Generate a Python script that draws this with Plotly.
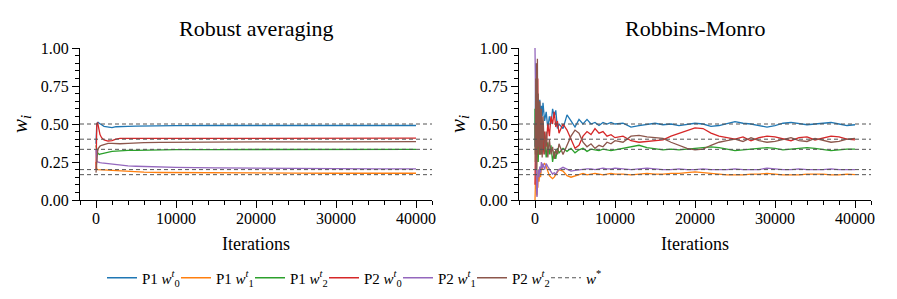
import plotly.graph_objects as go

# ---------------- data ----------------
series_names = ["P1 <i>w</i><sup><i>t</i></sup><sub>0</sub>", "P1 <i>w</i><sup><i>t</i></sup><sub>1</sub>",
                "P1 <i>w</i><sup><i>t</i></sup><sub>2</sub>", "P2 <i>w</i><sup><i>t</i></sup><sub>0</sub>",
                "P2 <i>w</i><sup><i>t</i></sup><sub>1</sub>", "P2 <i>w</i><sup><i>t</i></sup><sub>2</sub>"]
series_colors = ["#1f77b4", "#ff7f0e", "#2ca02c", "#d62728", "#9467bd", "#8c564b"]
w_star = [0.5, 0.4, 1/3, 0.2, 1/6]

# Robust averaging
x_ra = [0, 50, 100, 200, 300, 400, 500, 700, 1000, 1500, 2000, 2500, 3000, 4000, 5000, 6000,
        8000, 10000, 15000, 20000, 25000, 30000, 35000, 40000]
ra_p1_w0 = [0.37, 0.45, 0.50, 0.51, 0.51, 0.505, 0.50, 0.495, 0.485, 0.478, 0.476, 0.482, 0.484, 0.485,
            0.486, 0.487, 0.488, 0.489, 0.49, 0.49, 0.49, 0.49, 0.49, 0.49]
ra_p1_w1 = [0.25, 0.22, 0.205, 0.20, 0.20, 0.20, 0.20, 0.20, 0.198, 0.196, 0.195, 0.193, 0.19, 0.187,
            0.185, 0.183, 0.181, 0.18, 0.178, 0.177, 0.177, 0.176, 0.176, 0.176]
ra_p1_w2 = [0.36, 0.34, 0.32, 0.31, 0.305, 0.30, 0.302, 0.305, 0.31, 0.315, 0.32, 0.322, 0.324, 0.326,
            0.327, 0.328, 0.33, 0.331, 0.332, 0.333, 0.333, 0.333, 0.333, 0.333]
ra_p2_w0 = [0.20, 0.40, 0.50, 0.51, 0.48, 0.45, 0.43, 0.41, 0.395, 0.388, 0.39, 0.40, 0.405, 0.405,
            0.405, 0.406, 0.407, 0.407, 0.407, 0.407, 0.407, 0.407, 0.407, 0.407]
ra_p2_w1 = [0.33, 0.28, 0.26, 0.25, 0.25, 0.248, 0.246, 0.244, 0.242, 0.238, 0.236, 0.232, 0.228, 0.224,
            0.222, 0.22, 0.217, 0.215, 0.211, 0.208, 0.207, 0.206, 0.205, 0.205]
ra_p2_w2 = [0.18, 0.22, 0.27, 0.32, 0.34, 0.35, 0.355, 0.36, 0.365, 0.372, 0.372, 0.37, 0.37, 0.372,
            0.375, 0.378, 0.379, 0.38, 0.381, 0.382, 0.383, 0.383, 0.384, 0.384]

# Robbins-Monro
x_rm = [0, 50, 100, 150, 200, 250, 300, 350, 400, 500, 600, 700, 800, 900, 1000, 1200, 1400, 1600,
        1800, 2000, 2200, 2400, 2600, 2800,
        3000, 3500, 4000, 4500, 5000, 5500, 6000, 6500, 7000, 7500, 8000, 8500, 9000, 9500, 10000,
        11000, 12000, 13000, 14000, 15000, 16000, 17000, 18000, 19000, 20000, 21000, 22000, 23000,
        24000, 25000, 26000, 27000, 28000, 29000, 30000, 31000, 32000, 33000, 34000, 35000, 36000,
        37000, 38000, 39000, 40000]
rm_p1_w0 = [0.35, 0.70, 0.90, 0.60, 0.85, 0.50, 0.70, 0.45, 0.65, 0.55, 0.66, 0.50, 0.62, 0.55, 0.64,
            0.52, 0.58, 0.47, 0.55, 0.50, 0.60, 0.55, 0.59, 0.47,
            0.50, 0.47, 0.56, 0.52, 0.48, 0.53, 0.50, 0.53, 0.50, 0.51, 0.49, 0.51, 0.50, 0.51, 0.50,
            0.505, 0.48, 0.49, 0.50, 0.505, 0.495, 0.50, 0.49, 0.50, 0.505, 0.50, 0.485, 0.49, 0.50,
            0.515, 0.505, 0.50, 0.49, 0.48, 0.49, 0.505, 0.51, 0.50, 0.495, 0.50, 0.505, 0.51, 0.50,
            0.49, 0.495]
rm_p1_w1 = [0.00, 0.20, 0.05, 0.30, 0.08, 0.03, 0.15, 0.08, 0.20, 0.12, 0.20, 0.15, 0.22, 0.20, 0.23,
            0.24, 0.22, 0.19, 0.16, 0.15, 0.14, 0.15, 0.17, 0.19,
            0.20, 0.19, 0.16, 0.15, 0.16, 0.17, 0.175, 0.165, 0.17, 0.175, 0.17, 0.165, 0.17, 0.175, 0.17,
            0.17, 0.165, 0.17, 0.175, 0.17, 0.17, 0.175, 0.175, 0.18, 0.185, 0.18, 0.175, 0.17, 0.165,
            0.165, 0.165, 0.17, 0.17, 0.175, 0.17, 0.165, 0.165, 0.165, 0.17, 0.17, 0.17, 0.165, 0.165,
            0.17, 0.167]
rm_p1_w2 = [0.60, 0.25, 0.50, 0.35, 0.15, 0.45, 0.30, 0.55, 0.25, 0.45, 0.30, 0.48, 0.30, 0.42, 0.32,
            0.40, 0.28, 0.38, 0.30, 0.36, 0.25, 0.32, 0.27, 0.34,
            0.31, 0.34, 0.32, 0.34, 0.31, 0.33, 0.34, 0.32, 0.335, 0.33, 0.325, 0.335, 0.33, 0.325, 0.33,
            0.34, 0.35, 0.36, 0.345, 0.335, 0.33, 0.335, 0.33, 0.335, 0.34, 0.345, 0.35, 0.345, 0.335,
            0.325, 0.33, 0.335, 0.34, 0.345, 0.34, 0.33, 0.335, 0.34, 0.345, 0.34, 0.33, 0.325, 0.33,
            0.335, 0.335]
rm_p2_w0 = [0.10, 0.60, 0.30, 0.75, 0.20, 0.55, 0.35, 0.80, 0.40, 0.60, 0.30, 0.55, 0.35, 0.50, 0.30,
            0.45, 0.35, 0.50, 0.42, 0.55, 0.50, 0.58, 0.48, 0.52,
            0.44, 0.50, 0.46, 0.40, 0.34, 0.36, 0.42, 0.45, 0.43, 0.47, 0.44, 0.45, 0.42, 0.43, 0.41,
            0.42, 0.39, 0.38, 0.385, 0.39, 0.395, 0.42, 0.44, 0.46, 0.475, 0.47, 0.44, 0.42, 0.41,
            0.40, 0.415, 0.39, 0.41, 0.42, 0.415, 0.40, 0.39, 0.41, 0.415, 0.395, 0.41, 0.42, 0.415,
            0.40, 0.395]
rm_p2_w1 = [1.00, 0.60, 0.30, 0.15, 0.05, 0.02, 0.10, 0.05, 0.20, 0.15, 0.22, 0.18, 0.25, 0.21, 0.24,
            0.20, 0.24, 0.22, 0.20, 0.19, 0.17, 0.18, 0.17, 0.19,
            0.20, 0.215, 0.20, 0.19, 0.195, 0.20, 0.20, 0.205, 0.205, 0.20, 0.205, 0.21, 0.205, 0.205, 0.21,
            0.205, 0.20, 0.205, 0.21, 0.205, 0.20, 0.20, 0.205, 0.20, 0.20, 0.205, 0.20, 0.20, 0.20,
            0.205, 0.20, 0.20, 0.20, 0.21, 0.205, 0.20, 0.20, 0.205, 0.20, 0.20, 0.20, 0.205, 0.20,
            0.20, 0.20]
rm_p2_w2 = [0.50, 0.30, 0.80, 0.20, 0.90, 0.30, 0.93, 0.35, 0.70, 0.30, 0.65, 0.30, 0.60, 0.28, 0.55,
            0.30, 0.45, 0.28, 0.40, 0.30, 0.35, 0.27, 0.33, 0.30,
            0.37, 0.30, 0.36, 0.42, 0.46, 0.44, 0.38, 0.35, 0.37, 0.34, 0.36, 0.35, 0.38, 0.37, 0.39,
            0.38, 0.42, 0.425, 0.415, 0.41, 0.405, 0.38, 0.36, 0.34, 0.33, 0.335, 0.36, 0.38, 0.39,
            0.40, 0.385, 0.41, 0.39, 0.38, 0.385, 0.40, 0.41, 0.39, 0.385, 0.405, 0.39, 0.38, 0.385,
            0.40, 0.405]

ra_series = [ra_p1_w0, ra_p1_w1, ra_p1_w2, ra_p2_w0, ra_p2_w1, ra_p2_w2]
rm_series = [rm_p1_w0, rm_p1_w1, rm_p1_w2, rm_p2_w0, rm_p2_w1, rm_p2_w2]

titles = ["Robust averaging", "Robbins-Monro"]
x_range = [-2000, 42000]

# ---------------- figure ----------------
W, H = 897, 299          # browser window
OFF = 8                  # default page body margin
FW, FH = W - 2 * OFF, H - 2 * OFF
FONT = "Liberation Serif, Times New Roman, serif"
fig = go.Figure()

legend_ids = ["legend", "legend2", "legend3", "legend4", "legend5", "legend6", "legend7"]

for k, (series, xs) in enumerate([(ra_series, x_ra), (rm_series, x_rm)]):
    xa = "x" if k == 0 else "x2"
    ya = "y" if k == 0 else "y2"
    for i, ys in enumerate(series):
        fig.add_trace(go.Scatter(x=xs, y=ys, mode="lines", name=series_names[i],
                                 line=dict(color=series_colors[i], width=1.3),
                                 xaxis=xa, yaxis=ya, showlegend=(k == 0), legend=legend_ids[i]))
    dx, dy = [], []
    for v in w_star:
        dx += [x_range[0], x_range[1], None]
        dy += [v, v, None]
    fig.add_trace(go.Scatter(x=dx, y=dy, mode="lines", name="<i>w</i><sup>*</sup>",
                             line=dict(color="#555555", width=1, dash="4px,3px"),
                             xaxis=xa, yaxis=ya, showlegend=(k == 0), legend=legend_ids[6]))

def px_x(p):
    return (p - OFF) / FW

def px_y(p):
    return 1 - (p - OFF) / FH

doms = [[px_x(80), px_x(432)], [px_x(519), px_x(871)]]
ydom = [px_y(200), px_y(48)]

axis_common = dict(showline=True, linecolor="black", linewidth=1.2, showgrid=False, zeroline=False,
                   ticks="outside", ticklen=7, tickwidth=1.2, tickcolor="black", automargin=False,
                   tickfont=dict(family=FONT, size=16, color="black"))

for k in range(2):
    sx = "" if k == 0 else "2"
    fig.update_layout(**{
        "xaxis" + sx: dict(axis_common, domain=doms[k], range=x_range, tick0=0, dtick=10000,
                           tickformat="d", anchor="y" + sx, ticklabelstandoff=-3,
                           minor=dict(tick0=0, dtick=2000, ticklen=4, tickwidth=1, tickcolor="black",
                                      ticks="outside", showgrid=False),
                           title=dict(text="Iterations", font=dict(family=FONT, size=18, color="black"),
                                      standoff=11)),
        "yaxis" + sx: dict(axis_common, domain=ydom, range=[0, 1], tick0=0, dtick=0.25, tickformat=".2f",
                           anchor="x" + sx,
                           minor=dict(tick0=0, dtick=0.05, ticklen=4, tickwidth=1, tickcolor="black",
                                      ticks="outside", showgrid=False),
                           title=dict(text="<i>w<sub>i</sub></i>", font=dict(family=FONT, size=21, color="black"),
                                      standoff=8)),
    })
    fig.add_annotation(text=titles[k], x=(doms[k][0] + doms[k][1]) / 2, y=px_y(28),
                       xref="paper", yref="paper", xanchor="center", yanchor="middle",
                       showarrow=False, font=dict(family=FONT, size=22, color="black"))

legend_starts = [102, 176, 250, 324, 398, 472, 546]   # screen px of each legend box
legend_layout = {}
for j, lid in enumerate(legend_ids):
    legend_layout[lid] = dict(orientation="h", x=px_x(legend_starts[j]), y=px_y(278),
                              xanchor="left", yanchor="middle",
                              font=dict(family=FONT, size=15, color="black"),
                              itemwidth=30, bgcolor="rgba(0,0,0,0)", borderwidth=0)

fig.update_layout(
    width=FW, height=FH, margin=dict(l=0, r=0, t=0, b=0, autoexpand=False),
    paper_bgcolor="white", plot_bgcolor="white",
    font=dict(family=FONT, color="black"),
    **legend_layout,
)

fig.write_html("out.html")
